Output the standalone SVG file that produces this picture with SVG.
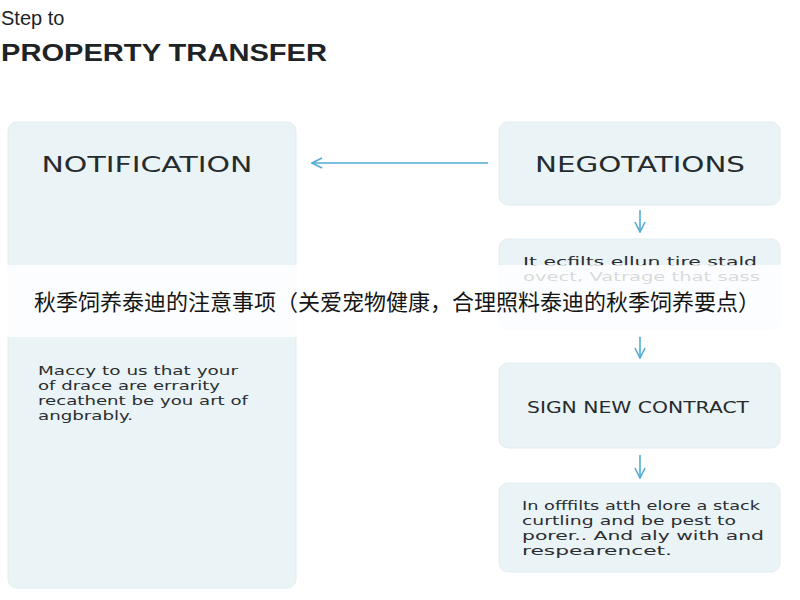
<svg xmlns="http://www.w3.org/2000/svg" width="800" height="600" viewBox="0 0 800 600">
<defs>
<style>
.box{fill:#eaf3f6;stroke:#e2ecef;stroke-width:1}
.ttl{font-family:"Liberation Sans",Arial,sans-serif;fill:#1e2326}
.head{font-family:"DejaVu Sans","Liberation Sans",sans-serif;font-size:21px;fill:#262b2e;text-anchor:middle}
.sub{font-family:"DejaVu Sans","Liberation Sans",sans-serif;font-size:15px;fill:#262b2e;text-anchor:middle}
.body{font-family:"DejaVu Sans","Liberation Sans",sans-serif;font-size:13px;fill:#2a2e31}
.conn{stroke:#52abd6;stroke-width:1.6;fill:none}
.cjk{font-family:"Noto Sans CJK SC","Noto Sans",sans-serif;font-size:22px;fill:#151515;text-anchor:middle}
</style>
<marker id="ah" viewBox="0 0 12 12" refX="11" refY="6" markerWidth="12" markerHeight="12" markerUnits="userSpaceOnUse" orient="auto">
<path d="M1,1 L11,6 L1,11" fill="none" stroke="#52abd6" stroke-width="1.6"/>
</marker>
</defs>
<rect width="800" height="600" fill="#ffffff"/>
<g id="title">
<text class="ttl" x="1" y="25" font-size="20">Step to</text>
<text class="ttl" x="1" y="61" font-size="24" font-weight="bold" textLength="326" lengthAdjust="spacingAndGlyphs">PROPERTY TRANSFER</text>
</g>
<g id="notification">
<rect class="box" x="8" y="122" width="288" height="466" rx="9"/>
<text class="head" x="147" y="172" textLength="211" lengthAdjust="spacingAndGlyphs">NOTIFICATION</text>
<text class="body" x="38" y="375" textLength="200" lengthAdjust="spacingAndGlyphs">Maccy to us that your</text>
<text class="body" x="38" y="390" textLength="182" lengthAdjust="spacingAndGlyphs">of drace are errarity</text>
<text class="body" x="38" y="405" textLength="210" lengthAdjust="spacingAndGlyphs">recathent be you art of</text>
<text class="body" x="38" y="420" textLength="95" lengthAdjust="spacingAndGlyphs">angbrably.</text>
</g>
<g id="negotations">
<rect class="box" x="499" y="122" width="281" height="83" rx="9"/>
<text class="head" x="640" y="172" textLength="210" lengthAdjust="spacingAndGlyphs">NEGOTATIONS</text>
</g>
<g id="details">
<rect class="box" x="499" y="239" width="281" height="90" rx="9"/>
<text class="body" x="523" y="266" textLength="234" lengthAdjust="spacingAndGlyphs">It ecfilts ellun tire stald</text>
<text class="body" x="523" y="281" textLength="237" lengthAdjust="spacingAndGlyphs">ovect, Vatrage that sass</text>
</g>
<g id="sign-new-contract">
<rect class="box" x="499" y="363" width="281" height="85" rx="9"/>
<text class="sub" x="638" y="413" textLength="222" lengthAdjust="spacingAndGlyphs">SIGN NEW CONTRACT</text>
</g>
<g id="final">
<rect class="box" x="499" y="483" width="281" height="89" rx="9"/>
<text class="body" x="522" y="510" textLength="238" lengthAdjust="spacingAndGlyphs">In offfilts atth elore a stack</text>
<text class="body" x="522" y="525" textLength="214" lengthAdjust="spacingAndGlyphs">curtling and be pest to</text>
<text class="body" x="522" y="540" textLength="242" lengthAdjust="spacingAndGlyphs">porer.. And aly with and</text>
<text class="body" x="522" y="555" textLength="150" lengthAdjust="spacingAndGlyphs">respearencet.</text>
</g>
<g id="connectors">
<line class="conn" x1="488" y1="163" x2="312" y2="163" marker-end="url(#ah)"/>
<line class="conn" x1="640" y1="210" x2="640" y2="232" marker-end="url(#ah)"/>
<line class="conn" x1="640" y1="336" x2="640" y2="358" marker-end="url(#ah)"/>
<line class="conn" x1="640" y1="455" x2="640" y2="478" marker-end="url(#ah)"/>
</g>
<g id="banner">
<rect x="0" y="265" width="800" height="72" fill="#ffffff" fill-opacity="0.82"/>
<text class="cjk" x="397" y="310">秋季饲养泰迪的注意事项（关爱宠物健康，合理照料泰迪的秋季饲养要点）</text>
</g>
</svg>
